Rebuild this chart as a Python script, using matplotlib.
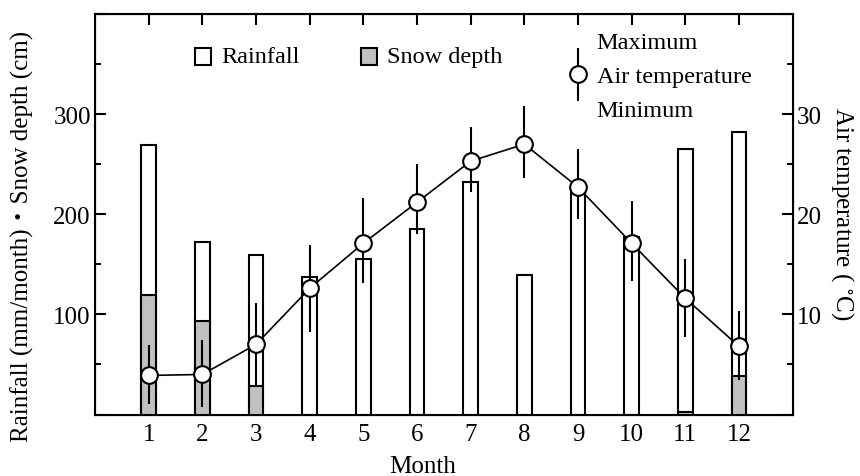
import numpy as np
import matplotlib
matplotlib.use("Agg")
import matplotlib.pyplot as plt
from matplotlib.patches import Rectangle
from matplotlib.ticker import MultipleLocator, FixedLocator, FixedFormatter

plt.rcParams['font.family'] = ['Liberation Serif', 'Noto Sans CJK JP', 'DejaVu Sans']
plt.rcParams['mathtext.fontset'] = 'stix'

# monthly data
months = np.arange(1, 13)
rainfall = [269, 172, 159, 137, 155, 185, 232, 139, 225, 177, 265, 282]
snow = [119, 93, 28, 0, 0, 0, 0, 0, 0, 0, 2, 38]
temp = [3.9, 4.0, 7.0, 12.6, 17.1, 21.2, 25.3, 27.0, 22.7, 17.1, 11.6, 6.8]
temp_max = [6.9, 7.4, 11.1, 16.9, 21.6, 25.0, 28.7, 30.8, 26.5, 21.3, 15.5, 10.3]
temp_min = [1.0, 0.7, 2.9, 8.2, 13.1, 18.0, 22.2, 23.6, 19.5, 13.3, 7.7, 3.4]

fs = 18
fs_leg = 17.5
lw = 1.5
bar_w = 0.27
snow_color = '#c0c0c0'

fig = plt.figure(figsize=(8.6, 4.77), dpi=100)
ax = fig.add_axes([95/860, 1 - 415.5/477, 697.7/860, 400.5/477])

# bars
ax.bar(months, rainfall, width=bar_w, facecolor='white', edgecolor='black', linewidth=lw, zorder=2)
snow_arr = np.array(snow)
has_snow = snow_arr > 0
ax.bar(months[has_snow], snow_arr[has_snow], width=bar_w, facecolor=snow_color,
       edgecolor='black', linewidth=lw, zorder=3)

ax.set_xlim(0, 13)
ax.set_ylim(0, 400)
ax.set_xticks(months)
ax.set_xticklabels([str(m) for m in months])
ax.yaxis.set_major_locator(FixedLocator([0, 100, 200, 300, 400]))
ax.yaxis.set_major_formatter(FixedFormatter(['', '100', '200', '300', '']))
ax.yaxis.set_minor_locator(MultipleLocator(50))
ax.tick_params(axis='y', which='major', direction='in', length=8, width=lw, labelsize=fs, pad=3)
ax.tick_params(axis='y', which='minor', direction='in', length=4, width=lw)
ax.tick_params(axis='x', which='major', direction='in', length=8, width=lw, labelsize=fs,
               bottom=False, top=True, pad=6)
for s in ax.spines.values():
    s.set_linewidth(lw)

ax.set_xlabel('Month', fontsize=fs, x=0.47, labelpad=7)
ax.set_ylabel('Rainfall (mm/month)・Snow depth (cm)', fontsize=fs)
ax.yaxis.set_label_coords(-0.088, 0.448)

# temperature on the right axis
ax2 = ax.twinx()
ax2.set_ylim(0, 40)
ax2.yaxis.set_major_locator(FixedLocator([0, 10, 20, 30, 40]))
ax2.yaxis.set_major_formatter(FixedFormatter(['', '10', '20', '30', '']))
ax2.yaxis.set_minor_locator(MultipleLocator(5))
ax2.tick_params(axis='y', which='major', direction='in', length=8, width=lw, labelsize=fs, pad=3)
ax2.tick_params(axis='y', which='minor', direction='in', length=4, width=lw)
ax2.set_ylabel('Air temperature ( $^{\\circ}$C)', fontsize=fs, rotation=270, labelpad=22)
ax2.yaxis.set_label_coords(1.09, 0.505)

t = np.array(temp)
yerr = [t - np.array(temp_min), np.array(temp_max) - t]
ax2.errorbar(months, t, yerr=yerr, fmt='none', ecolor='black', elinewidth=lw, capsize=0, zorder=3)
ax2.plot(months, t, color='black', linewidth=1.2, marker='o', markersize=12,
         markerfacecolor='white', markeredgecolor='black', markeredgewidth=lw, zorder=4)

# legend drawn by hand
sq = 16.5
sq_w = sq / 697.7
sq_h = sq / 400.5
for cx, face, label in [(0.155, 'white', 'Rainfall'), (0.393, snow_color, 'Snow depth')]:
    ax2.add_patch(Rectangle((cx - sq_w / 2, 0.894 - sq_h / 2), sq_w, sq_h, transform=ax2.transAxes,
                            facecolor=face, edgecolor='black', linewidth=lw, clip_on=False, zorder=5))
    ax2.text(cx + 0.026, 0.894, label, transform=ax2.transAxes, fontsize=fs_leg, va='center', ha='left')

ax2.plot([0.692, 0.692], [0.785, 0.913], transform=ax2.transAxes, color='black', linewidth=lw, zorder=5)
ax2.plot([0.692], [0.849], transform=ax2.transAxes, marker='o', markersize=12, markerfacecolor='white',
         markeredgecolor='black', markeredgewidth=lw, zorder=6)
ax2.text(0.719, 0.930, 'Maximum', transform=ax2.transAxes, fontsize=fs_leg, va='center', ha='left')
ax2.text(0.719, 0.845, 'Air temperature', transform=ax2.transAxes, fontsize=fs_leg, va='center', ha='left')
ax2.text(0.719, 0.759, 'Minimum', transform=ax2.transAxes, fontsize=fs_leg, va='center', ha='left')

fig.savefig('out.png', dpi=100)
